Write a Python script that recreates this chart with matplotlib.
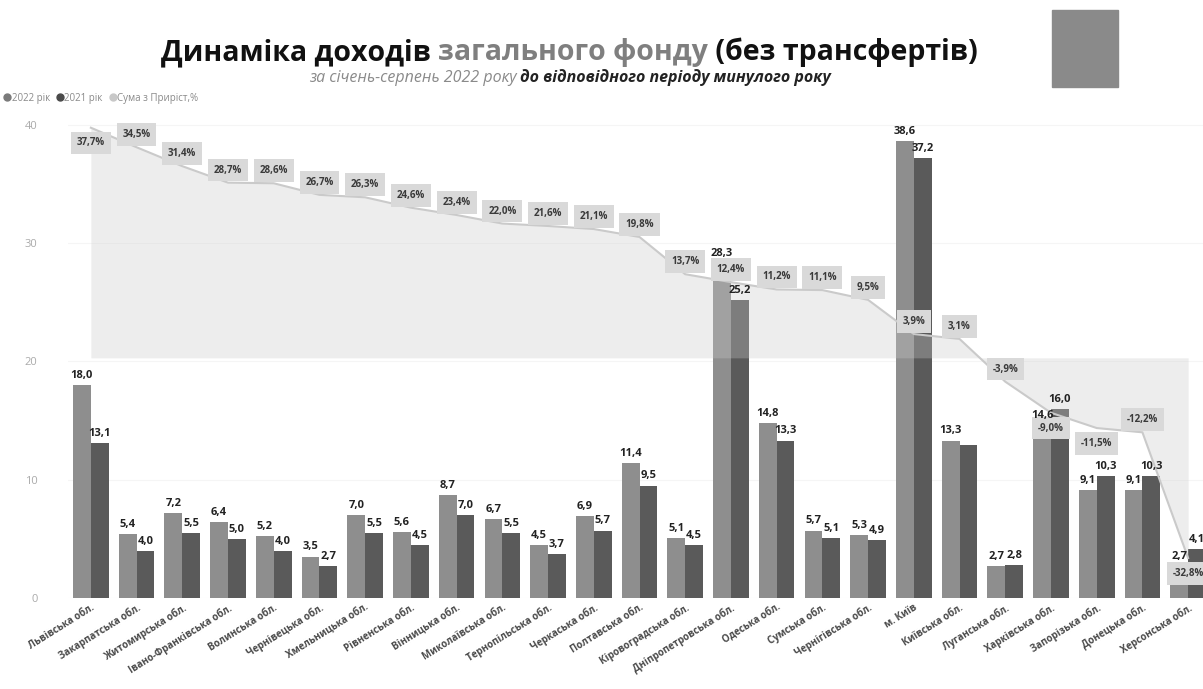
import numpy as np
import matplotlib
matplotlib.use("Agg")
import matplotlib.pyplot as plt
from matplotlib.lines import Line2D
from matplotlib.patches import Rectangle

plt.rcParams['font.family'] = ['Open Sans', 'DejaVu Sans']

# data
regions = ["Львівська обл.", "Закарпатська обл.", "Житомирська обл.", "Івано-Франківська обл.",
           "Волинська обл.", "Чернівецька обл.", "Хмельницька обл.", "Рівненська обл.",
           "Вінницька обл.", "Миколаївська обл.", "Тернопільська обл.", "Черкаська обл.",
           "Полтавська обл.", "Кіровоградська обл.", "Дніпропетровська обл.", "Одеська обл.",
           "Сумська обл.", "Чернігівська обл.", "м. Київ", "Київська обл.", "Луганська обл.",
           "Харківська обл.", "Запорізька обл.", "Донецька обл.", "Херсонська обл."]
y2022 = [18.0, 5.4, 7.2, 6.4, 5.2, 3.5, 7.0, 5.6, 8.7, 6.7, 4.5, 6.9, 11.4, 5.1, 28.3,
         14.8, 5.7, 5.3, 38.6, 13.3, 2.7, 14.6, 9.1, 9.1, 2.7]
y2021 = [13.1, 4.0, 5.5, 5.0, 4.0, 2.7, 5.5, 4.5, 7.0, 5.5, 3.7, 5.7, 9.5, 4.5, 25.2,
         13.3, 5.1, 4.9, 37.2, 12.9, 2.8, 16.0, 10.3, 10.3, 4.1]
growth = [37.7, 34.5, 31.4, 28.7, 28.6, 26.7, 26.3, 24.6, 23.4, 22.0, 21.6, 21.1, 19.8,
          13.7, 12.4, 11.2, 11.1, 9.5, 3.9, 3.1, -3.9, -9.0, -11.5, -12.2, -32.8]

c2022 = '#8e8e8e'
c2021 = '#5a5a5a'
cline = '#cacaca'

fig = plt.figure(figsize=(12.03, 6.89), dpi=100)
W, H = 1203, 689
ax = fig.add_axes([68 / W, 91 / H, 1143 / W, 41 * 11.83 / H])

x = np.arange(len(regions))
w = 0.39
ax.bar(x - w / 2, y2022, w, color=c2022, zorder=2)
ax.bar(x + w / 2, y2021, w, color=c2021, zorder=2)
ax.set_xlim(-0.5, len(regions) - 0.5)
ax.set_ylim(0, 41)
ax.set_yticks([0, 10, 20, 30, 40])
ax.grid(axis='y', color='#f5f5f5', lw=0.8, zorder=0)
ax.tick_params(axis='y', length=0, colors='#aaaaaa', labelsize=8, pad=22)
ax.set_xticks(x)
ax.set_xticklabels(regions, rotation=32, ha='right', rotation_mode='anchor',
                   fontsize=7, fontweight='bold', color='#4a4a4a')
ax.tick_params(axis='x', length=0, pad=3)
for s in ax.spines.values():
    s.set_visible(False)

# growth % on a hidden second axis, 0% sits at ~20.3 of the left scale
ax2 = ax.twinx()
ax2.set_ylim(-20.3 / 0.516, (41 - 20.3) / 0.516)
ax2.fill_between(x, growth, 0, color='#cacaca', alpha=0.32, lw=0)
ax2.plot(x, growth, color=cline, lw=1.5)
ax2.set_yticks([])
for s in ax2.spines.values():
    s.set_visible(False)

below = {0, 21, 22, 24}
for xi, p in zip(x, growth):
    dy = -11 if xi in below else 9
    ax2.annotate(f"{p:.1f}%".replace('.', ','), (xi, p), xytext=(0, dy),
                 textcoords='offset points', ha='center', va='center',
                 fontsize=7, fontweight='bold', color='#3a3a3a',
                 bbox=dict(boxstyle='square,pad=0.6', fc='#d9d9d9', ec='none'))

# value labels on top of everything
for xi, a, b in zip(x, y2022, y2021):
    ax2.annotate(f"{a:.1f}".replace('.', ','), (xi - w / 2, a), xycoords=ax.transData,
                 xytext=(0, 3), textcoords='offset points', ha='center', va='bottom',
                 fontsize=8, fontweight='bold', color='#222222')
    if xi != 19:
        ax2.annotate(f"{b:.1f}".replace('.', ','), (xi + w / 2, b), xycoords=ax.transData,
                     xytext=(0, 3), textcoords='offset points', ha='center', va='bottom',
                     fontsize=8, fontweight='bold', color='#222222')


def rich_text(xc, y0, parts, **kw):
    # lay the coloured pieces one after another, centred on xc
    r = fig.canvas.get_renderer()
    texts = []
    xx = 0
    for s, col, extra in parts:
        t = fig.text(xx, y0, s, color=col, va='baseline', **kw, **extra)
        bb = t.get_window_extent(r)
        texts.append(t)
        xx = bb.x1 / fig.bbox.width
    shift = xc - xx / 2
    for t in texts:
        t.set_x(t.get_position()[0] + shift)


rich_text(569 / W, 1 - 60 / H,
          [("Динаміка доходів ", '#111111', {}),
           ("загального фонду", '#7f7f7f', {}),
           (" (без трансфертів)", '#111111', {})],
          fontsize=20.5, fontweight='bold')
rich_text(570 / W, 1 - 82 / H,
          [("за січень-серпень 2022 року ", '#8a8a8a', {}),
           ("до відповідного періоду минулого року", '#222222', {'fontweight': 'bold'})],
          fontsize=11.5, style='italic')

fig.patches.append(Rectangle((1052 / W, 1 - 87 / H), 66 / W, 77 / H,
                             transform=fig.transFigure, color='#8a8a8a'))

handles = [Line2D([], [], marker='o', ls='', color=c, markersize=5)
           for c in ['#7a7a7a', '#4a4a4a', '#c8c8c8']]
fig.legend(handles, ["2022 рік", "2021 рік", "Сума з Приріст,%"], loc='center left',
           bbox_to_anchor=(0.0, 1 - 98 / H), ncol=3, frameon=False, fontsize=7,
           labelcolor='#8a8a8a', handletextpad=0.1, columnspacing=0.6,
           handlelength=0.8, borderaxespad=0, borderpad=0.3)

fig.savefig("out.png", dpi=100)
